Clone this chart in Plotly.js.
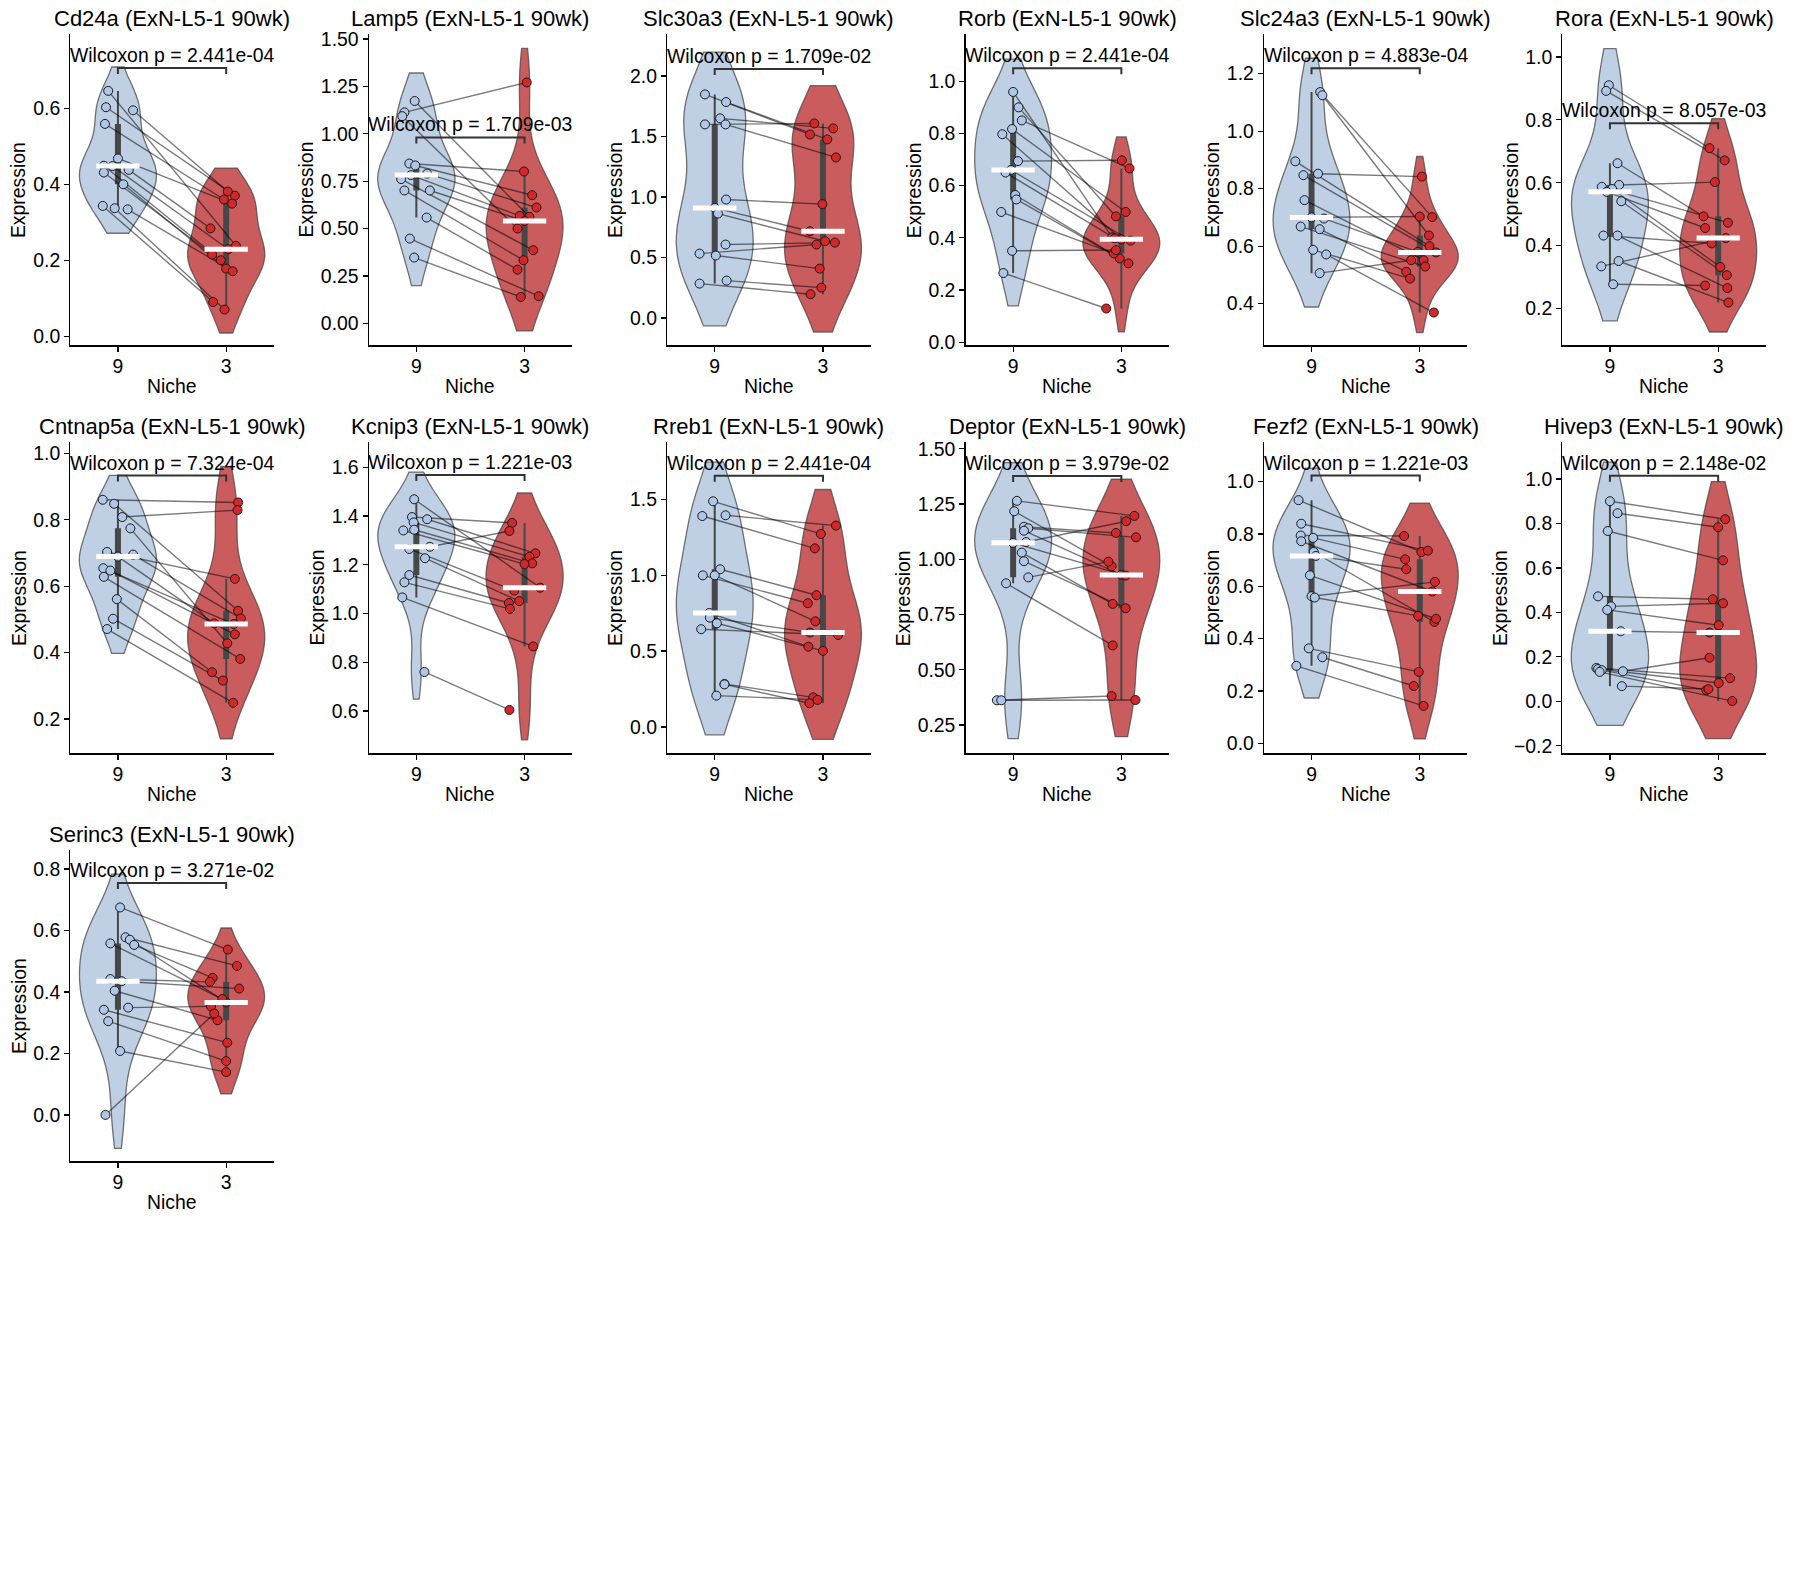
<!DOCTYPE html>
<html><head><meta charset="utf-8">
<script src="https://cdn.plot.ly/plotly-3.0.1.min.js"></script>
<style>html,body{margin:0;padding:0;background:#fff}#chart{width:1794px;height:1578px}</style>
</head><body><div id="chart"></div>
<script>
// ---------------- data ----------------
const genes = ['Cd24a','Lamp5','Slc30a3','Rorb','Slc24a3','Rora','Cntnap5a','Kcnip3','Rreb1','Deptor','Fezf2','Hivep3','Serinc3'];
const pLabels = ['2.441e-04','1.709e-03','1.709e-02','2.441e-04','4.883e-04','8.057e-03','7.324e-04','1.221e-03','2.441e-04','3.979e-02','1.221e-03','2.148e-02','3.271e-02'];
const categories = ['9','3'];

// paired expression values (index i in niche9 is paired with index i in niche3)
const niche9 = [
 [0.646,0.603,0.595,0.559,0.468,0.449,0.448,0.438,0.431,0.400,0.343,0.337,0.334],
 [1.173,1.113,1.093,0.843,0.833,0.790,0.782,0.761,0.701,0.701,0.558,0.447,0.347],
 [1.848,1.785,1.650,1.600,1.600,0.979,0.910,0.863,0.607,0.532,0.516,0.309,0.284],
 [0.959,0.900,0.850,0.817,0.797,0.694,0.660,0.650,0.564,0.547,0.499,0.350,0.265],
 [1.136,1.125,0.895,0.852,0.847,0.760,0.700,0.696,0.668,0.659,0.587,0.571,0.506],
 [0.910,0.892,0.662,0.593,0.587,0.580,0.571,0.541,0.432,0.432,0.351,0.334,0.277],
 [0.860,0.848,0.808,0.774,0.703,0.695,0.689,0.654,0.647,0.628,0.561,0.502,0.471],
 [1.469,1.396,1.387,1.374,1.344,1.341,1.274,1.265,1.227,1.158,1.128,1.066,0.760],
 [1.487,1.395,1.390,1.039,0.999,0.999,0.751,0.720,0.683,0.644,0.283,0.280,0.206],
 [1.264,1.217,1.147,1.140,1.129,1.078,1.074,1.030,0.991,0.918,0.891,0.362,0.362],
 [0.929,0.839,0.794,0.785,0.772,0.731,0.716,0.642,0.562,0.557,0.363,0.329,0.296],
 [0.900,0.846,0.766,0.472,0.427,0.411,0.315,0.150,0.145,0.140,0.135,0.132,0.068],
 [0.675,0.578,0.570,0.558,0.553,0.442,0.435,0.404,0.349,0.342,0.305,0.208,0.000]
];
const niche3 = [
 [0.238,0.370,0.381,0.360,0.349,0.200,0.229,0.284,0.215,0.178,0.090,0.070,0.171],
 [0.562,1.271,0.500,0.801,0.676,0.611,0.567,0.386,0.333,0.540,0.283,0.143,0.139],
 [1.517,1.476,1.567,1.608,1.327,0.941,0.717,0.634,0.623,0.607,0.408,0.251,0.196],
 [0.402,0.482,0.666,0.499,0.394,0.697,0.389,0.398,0.321,0.302,0.340,0.353,0.129],
 [0.701,0.637,0.600,0.842,0.578,0.551,0.703,0.580,0.529,0.511,0.487,0.369,0.551],
 [0.710,0.671,0.493,0.602,0.473,0.332,0.456,0.306,0.407,0.265,0.219,0.424,0.273],
 [0.852,0.526,0.829,0.428,0.622,0.503,0.488,0.486,0.455,0.381,0.341,0.316,0.249],
 [1.106,1.372,1.247,1.233,1.206,1.203,1.339,1.094,1.051,1.043,1.019,0.865,0.604],
 [1.272,1.327,1.177,0.868,0.815,0.696,0.529,0.622,0.501,0.606,0.195,0.156,0.178],
 [1.196,0.968,1.119,1.099,0.929,1.172,0.926,0.798,0.778,0.989,0.610,0.381,0.363],
 [0.731,0.736,0.792,0.703,0.580,0.464,0.665,0.476,0.617,0.487,0.273,0.219,0.143],
 [0.819,0.783,0.634,0.459,0.441,0.342,0.309,0.104,0.082,0.050,0.196,0.001,0.055],
 [0.538,0.485,0.366,0.377,0.446,0.433,0.411,0.308,0.353,0.235,0.175,0.139,0.330]
];
// strip-plot horizontal jitter (category units)
const jitter9 = [
 [-0.09,-0.11,0.14,-0.12,0.0,-0.13,-0.05,0.10,-0.13,0.05,-0.14,-0.03,0.09],
 [-0.015,-0.11,-0.13,-0.065,-0.01,0.10,-0.05,-0.14,-0.11,0.125,0.095,-0.06,-0.02],
 [-0.09,0.105,0.05,-0.09,0.10,0.105,0.0,0.03,0.10,-0.14,0.01,0.11,-0.14],
 [0.0,0.05,0.08,-0.01,-0.10,0.045,-0.02,-0.07,0.02,0.03,-0.11,-0.01,-0.09],
 [0.08,0.10,-0.15,0.06,-0.075,-0.065,0.0,0.115,-0.10,0.075,0.015,0.135,0.075],
 [-0.01,-0.035,0.07,0.085,-0.075,0.02,-0.03,0.105,-0.06,0.07,0.08,-0.08,0.03],
 [-0.14,-0.035,0.04,0.115,-0.10,0.14,0.0,-0.135,-0.07,-0.13,-0.01,-0.045,-0.10],
 [-0.02,-0.04,0.10,-0.025,-0.02,-0.12,0.125,-0.065,0.08,-0.065,-0.11,-0.13,0.075],
 [-0.015,0.10,-0.115,0.05,-0.11,0.0,-0.05,-0.045,0.02,-0.125,0.09,0.09,0.015],
 [0.035,0.01,0.10,0.14,0.10,0.12,0.0,0.08,0.10,0.14,-0.065,-0.15,-0.11],
 [-0.12,-0.095,-0.10,0.015,-0.095,0.02,0.04,-0.015,0.0,0.03,-0.025,0.10,-0.14],
 [0.0,0.07,-0.02,-0.11,0.01,-0.025,0.10,-0.125,-0.11,-0.075,0.12,-0.095,0.11],
 [0.02,0.07,0.11,-0.07,0.15,-0.07,0.035,-0.03,0.095,-0.13,-0.09,0.02,-0.115]
];
const jitter3 = [
 [0.09,0.08,0.015,-0.02,0.055,-0.05,0.02,-0.145,-0.13,0.0,-0.12,-0.015,0.06],
 [0.045,0.02,-0.065,-0.005,0.07,0.11,-0.045,0.08,-0.01,0.0,-0.065,0.13,-0.035],
 [-0.12,0.04,0.095,-0.08,0.12,-0.005,-0.12,0.02,0.11,-0.06,-0.03,-0.015,-0.115],
 [-0.085,-0.05,0.075,0.04,0.0,0.005,0.085,-0.06,-0.015,0.065,-0.07,-0.05,-0.14],
 [0.115,0.085,0.09,0.02,0.15,0.035,0.0,-0.02,0.05,-0.125,-0.09,0.13,-0.08],
 [-0.08,0.06,-0.135,-0.03,0.09,0.02,-0.12,0.08,-0.06,0.085,0.095,0.07,-0.12],
 [0.11,0.11,0.105,0.01,0.08,0.135,-0.11,0.07,0.08,0.13,-0.13,-0.03,0.065],
 [0.145,-0.115,0.10,0.045,0.07,0.0,-0.14,-0.095,-0.05,-0.145,-0.135,0.08,-0.14],
 [-0.02,0.12,-0.075,-0.06,-0.14,-0.07,-0.135,-0.12,0.0,0.14,-0.09,-0.125,-0.05],
 [0.12,-0.09,-0.05,0.135,0.0,0.045,0.04,-0.08,0.04,-0.12,-0.08,-0.09,0.13],
 [0.015,0.075,-0.145,-0.135,0.115,0.135,-0.125,0.15,0.14,-0.015,-0.01,-0.055,0.035],
 [0.065,0.0,0.045,-0.05,0.045,0.005,-0.08,0.11,0.005,-0.11,-0.08,0.13,-0.09],
 [0.015,0.10,0.0,-0.035,-0.125,-0.15,0.12,-0.08,-0.14,0.01,0.0,0.0,-0.11]
];
const bracketY = [0.706,0.981,2.058,1.050,1.219,0.789,0.933,1.569,1.656,1.377,1.023,1.014,0.755];
const yRanges = [[-0.024,0.795],[-0.116,1.525],[-0.226,2.345],[-0.012,1.180],[0.255,1.337],[0.083,1.072],
                 [0.097,1.033],[0.426,1.703],[-0.174,1.876],[0.122,1.529],[-0.038,1.150],[-0.234,1.165],[-0.151,0.861]];
const yDtick = [0.2,0.25,0.5,0.2,0.2,0.2,0.2,0.2,0.5,0.25,0.2,0.2,0.2];
const yDecimals = [1,2,1,1,1,1,1,1,1,2,1,1,1];

// ---------------- style ----------------
const W = 1794, H = 1578;
const FONT = '"Liberation Sans", Arial, Helvetica, sans-serif';
const blueFill = 'rgb(191,208,229)', redFill = 'rgb(203,92,94)';
const bluePt = '#aec7e8', redPt = '#d62728';
const boxCol = '#474747';

function quantile(sorted, q){
  const pos = (sorted.length-1)*q, lo = Math.floor(pos), hi = Math.ceil(pos);
  return sorted[lo] + (sorted[hi]-sorted[lo])*(pos-lo);
}
function stats(vals){
  const s = vals.slice().sort((a,b)=>a-b);
  const q1 = quantile(s,0.25), q3 = quantile(s,0.75), med = quantile(s,0.5);
  const iqr = q3-q1;
  const lo = Math.min(...s.filter(v=>v>=q1-1.5*iqr));
  const hi = Math.max(...s.filter(v=>v<=q3+1.5*iqr));
  const n = s.length, mean = s.reduce((a,b)=>a+b,0)/n;
  const sd = Math.sqrt(s.reduce((a,b)=>a+(b-mean)*(b-mean),0)/(n-1));
  const bw = sd*Math.pow(n,-1/5);
  return {q1,q3,med,lo,hi,bw,min:s[0],max:s[n-1]};
}
// longest tick label (in characters) visible on a y axis
function maxTickChars(r, dt, dec){
  let m = 0;
  for(let v = Math.ceil(r[0]/dt - 1e-9)*dt; v <= r[1]+1e-9; v += dt){
    m = Math.max(m, Math.abs(v).toFixed(dec).length + (v < -1e-9 ? 1 : 0));
  }
  return m;
}

const traces = [], annotations = [], layout = {
  width: W, height: H, margin:{l:0,r:0,t:0,b:0}, paper_bgcolor:'#fff', plot_bgcolor:'#fff',
  showlegend:false, violinmode:'overlay', font:{family:FONT, color:'#000', size:19}
};
const rowTops = [34.3, 442.3, 850.3];
const PW = 203.5, PH = 311;

genes.forEach((g,i)=>{
  const k = i+1, sfx = k===1 ? '' : String(k);
  const xa = 'x'+sfx, ya = 'y'+sfx;
  const row = Math.floor(i/6), col = i%6;
  const left = 70.3 + col*298.4, top = rowTops[row];
  layout['xaxis'+sfx] = {
    domain:[left/W,(left+PW)/W], anchor:ya, range:[-0.44,1.44], fixedrange:true,
    tickmode:'array', tickvals:[0,1], ticktext:categories, ticklabelstandoff:-2,
    showline:true, linecolor:'#000', linewidth:1.2, ticks:'outside', ticklen:5, tickwidth:1.2, tickcolor:'#000',
    showgrid:false, zeroline:false, tickfont:{size:19.4, family:FONT, color:'#000'}
  };
  layout['yaxis'+sfx] = {
    domain:[1-(top+PH)/H, 1-top/H], anchor:xa, range:yRanges[i], fixedrange:true,
    tickmode:'linear', tick0:0, dtick:yDtick[i], tickformat:'.'+yDecimals[i]+'f',
    showline:true, linecolor:'#000', linewidth:1.2, ticks:'outside', ticklen:5, tickwidth:1.2, tickcolor:'#000',
    showgrid:false, zeroline:false, tickfont:{size:19.4, family:FONT, color:'#000'}
  };
  const groups = [
    {vals:niche9[i], jit:jitter9[i], pos:0, fill:blueFill, pt:bluePt},
    {vals:niche3[i], jit:jitter3[i], pos:1, fill:redFill, pt:redPt}
  ];
  const st = groups.map(G=>stats(G.vals));
  // violins
  groups.forEach((G,gi)=>{
    const s = st[gi];
    traces.push({type:'violin', x0:G.pos, y:G.vals, xaxis:xa, yaxis:ya, orientation:'v',
      width:0.71, scalemode:'width', bandwidth:s.bw, spanmode:'manual', span:[s.min-s.bw, s.max+s.bw],
      points:false, box:{visible:false}, meanline:{visible:false},
      fillcolor:G.fill, line:{color:'rgba(70,70,70,0.75)', width:1.3}, hoverinfo:'skip', showlegend:false});
  });
  // inner box (whisker + IQR)
  groups.forEach((G,gi)=>{
    const s = st[gi];
    traces.push({type:'scatter', mode:'lines', x:[G.pos,G.pos], y:[s.lo,s.hi], xaxis:xa, yaxis:ya,
      line:{color:boxCol, width:2}, hoverinfo:'skip'});
    traces.push({type:'scatter', mode:'lines', x:[G.pos,G.pos], y:[s.q1,s.q3], xaxis:xa, yaxis:ya,
      line:{color:boxCol, width:6}, hoverinfo:'skip'});
  });
  // paired lines
  niche9[i].forEach((v,j)=>{
    traces.push({type:'scatter', mode:'lines', x:[jitter9[i][j], 1+jitter3[i][j]], y:[v, niche3[i][j]],
      xaxis:xa, yaxis:ya, line:{color:'rgba(0,0,0,0.52)', width:1.4}, hoverinfo:'skip'});
  });
  // points
  groups.forEach(G=>{
    traces.push({type:'scatter', mode:'markers', x:G.jit.map(d=>G.pos+d), y:G.vals, xaxis:xa, yaxis:ya,
      marker:{size:9, color:G.pt, line:{color:'#1a1a1a', width:1}}, hoverinfo:'skip'});
  });
  // median bars
  groups.forEach((G,gi)=>{
    traces.push({type:'scatter', mode:'lines', x:[G.pos-0.2,G.pos+0.2], y:[st[gi].med,st[gi].med], xaxis:xa, yaxis:ya,
      line:{color:'#fff', width:5}, hoverinfo:'skip'});
  });
  // significance bracket
  const span = yRanges[i][1]-yRanges[i][0];
  const h = span*6/PH;
  traces.push({type:'scatter', mode:'lines', x:[0,0,1,1], y:[bracketY[i]-h,bracketY[i],bracketY[i],bracketY[i]-h],
    xaxis:xa, yaxis:ya, line:{color:'#333', width:2}, hoverinfo:'skip'});
  annotations.push({xref:xa, yref:ya, x:0.5, y:bracketY[i], xanchor:'center', yanchor:'bottom', yshift:0,
    text:'Wilcoxon p = '+pLabels[i], showarrow:false, font:{size:19.4, family:FONT, color:'#000'}});
  // subplot title
  annotations.push({xref:xa+' domain', yref:ya+' domain', x:0.5, y:1, xanchor:'center', yanchor:'bottom', yshift:1,
    text:g+' (ExN-L5-1 90wk)', showarrow:false, font:{size:22, family:FONT, color:'#000'}});
  // axis titles
  annotations.push({xref:xa+' domain', yref:ya+' domain', x:0.5, y:0, xanchor:'center', yanchor:'top', yshift:-28,
    text:'Niche', showarrow:false, font:{size:19.4, family:FONT, color:'#000'}});
  const tc = maxTickChars(yRanges[i], yDtick[i], yDecimals[i]);
  annotations.push({xref:xa+' domain', yref:ya+' domain', x:0, y:0.5, xanchor:'center', yanchor:'middle',
    xshift:-(52 + (tc-3)*11), textangle:-90, text:'Expression', showarrow:false, font:{size:19.4, family:FONT, color:'#000'}});
});
layout.annotations = annotations;
Plotly.newPlot('chart', traces, layout, {displayModeBar:false, staticPlot:true});
</script></body></html>
